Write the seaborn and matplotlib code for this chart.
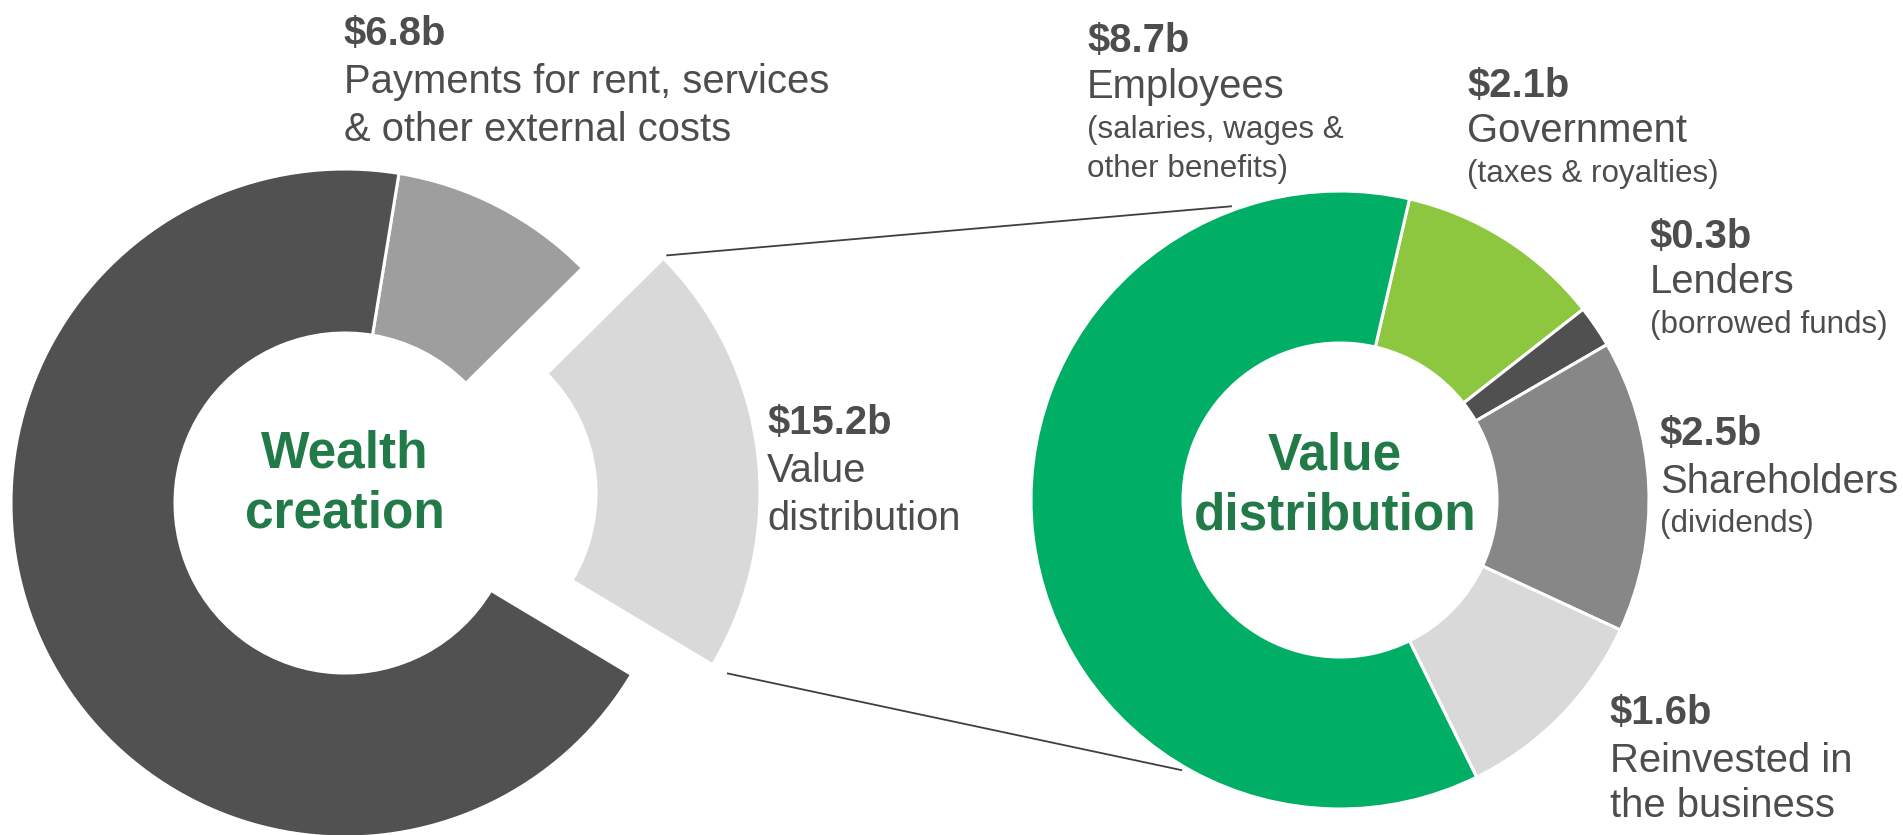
import numpy as np
import matplotlib
matplotlib.use("Agg")
import matplotlib.pyplot as plt
import seaborn as sns

# ---------------- data ----------------
# Wealth creation donut (left); the large dark slice carries no label
wc_value_labels = ["$6.8b", "$15.2b", ""]
wc_names = ["Payments for rent, services\n& other external costs", "Value\ndistribution", ""]
wc_share_pct = [10.0, 21.0, 69.0]          # slice shares as drawn in the picture
wc_colors = ["#9E9E9E", "#D9D9D9", "#515151"]

# Value distribution donut (right), clockwise from the top
vd_value_labels = ["$2.1b", "$0.3b", "$2.5b", "$1.6b", "$8.7b"]
vd_names = ["Government", "Lenders", "Shareholders", "Reinvested in\nthe business", "Employees"]
vd_notes = ["(taxes & royalties)", "(borrowed funds)", "(dividends)", "", "(salaries, wages &\nother benefits)"]
vd_share_pct = [10.8, 2.2, 15.3, 10.8, 60.9]   # slice shares as drawn in the picture
vd_colors = ["#8DC63F", "#505050", "#878787", "#D9D9D9", "#00AE65"]

center_titles = ["Wealth\ncreation", "Value\ndistribution"]

# ---------------- style ----------------
sns.set_theme(style="white")
plt.rcParams["font.family"] = ["Liberation Sans", "DejaVu Sans"]

W, H = 1903, 835
TXT = "#4D4D4D"
GREEN_TXT = "#217A47"
BIG, SMALL, TITLE = 28.8, 22.6, 37

fig = plt.figure(figsize=(W / 100, H / 100), dpi=100)
ax = fig.add_axes([0, 0, 1, 1])


def Y(y):
    return H - y


# ---------------- left donut ----------------
L_C, L_R, L_W = (345, Y(503)), 334, 164
wedges_l, _ = ax.pie(
    wc_share_pct, colors=wc_colors, startangle=80.7, counterclock=False,
    center=L_C, radius=L_R, explode=[0, 81.6, 0],
    wedgeprops=dict(width=L_W, edgecolor="white", linewidth=2.2),
)

# ---------------- right donut ----------------
R_C, R_R, R_W = (1340, Y(500)), 309, 152
wedges_r, _ = ax.pie(
    vd_share_pct, colors=vd_colors, startangle=77, counterclock=False,
    center=R_C, radius=R_R,
    wedgeprops=dict(width=R_W, edgecolor="white", linewidth=2.2),
)

# ---------------- connector lines (exploded slice -> right donut) ----------------
lw = wedges_l[1]
cx, cy = lw.center
def polar(c, r, deg):
    return c[0] + r * np.cos(np.radians(deg)), c[1] + r * np.sin(np.radians(deg))

p1 = polar((cx, cy), lw.r * 1.012, lw.theta2)
q1 = polar(R_C, R_R * 1.013, 110.2)
p2 = polar((cx, cy), lw.r * 1.05, lw.theta1)
q2 = polar(R_C, R_R * 1.013, -120.3)
for p, q in [(p1, q1), (p2, q2)]:
    ax.plot([p[0], q[0]], [p[1], q[1]], color="#3F3F3F", lw=1.3, solid_capstyle="butt")

# ---------------- centre titles ----------------
for (x, ys), title in zip([(345, (467, 528)), (1335, (469, 530))], center_titles):
    for yy, line in zip(ys, title.split("\n")):
        ax.text(x, Y(yy), line, ha="center", va="baseline", fontsize=TITLE,
                fontweight="bold", color=GREEN_TXT)


# ---------------- labels ----------------
def label(x, baselines, value, name_lines, note_lines):
    ax.text(x, Y(baselines[0]), value, ha="left", va="baseline", fontsize=BIG,
            fontweight="bold", color=TXT)
    i = 1
    for ln in name_lines:
        ax.text(x, Y(baselines[i]), ln, ha="left", va="baseline", fontsize=BIG, color=TXT)
        i += 1
    for ln in note_lines:
        ax.text(x, Y(baselines[i]), ln, ha="left", va="baseline", fontsize=SMALL, color=TXT)
        i += 1


def split(s):
    return s.split("\n") if s else []

# left donut labels
label(344, (45, 93, 141), wc_value_labels[0], split(wc_names[0]), [])
label(767, (434, 482, 530), wc_value_labels[1], split(wc_names[1]), [])

# right donut labels (same order as the data)
vd_pos = [
    (1467, (97, 142, 182)),
    (1650, (248, 293, 333)),
    (1660, (445, 493, 532)),
    (1610, (724, 772, 817)),
    (1087, (52, 98, 138, 177)),
]
for (x, bl), v, n, note in zip(vd_pos, vd_value_labels, vd_names, vd_notes):
    label(x, bl, v, split(n), split(note))

ax.set_xlim(0, W)
ax.set_ylim(0, H)
ax.set_aspect("auto")
ax.axis("off")

fig.savefig("out.png", dpi=100, facecolor="white")
